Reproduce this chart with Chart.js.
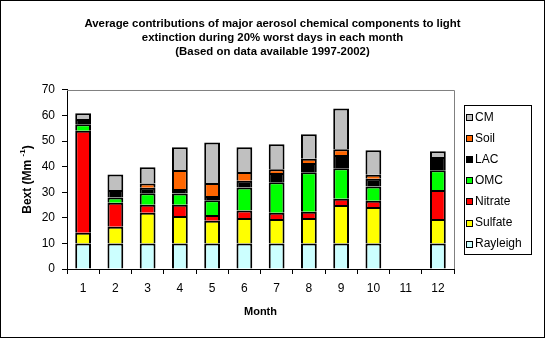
<!DOCTYPE html>
<html>
<head>
<meta charset="utf-8">
<script src="https://cdn.jsdelivr.net/npm/chart.js@4/dist/chart.umd.min.js"></script>
<style>
  html, body { margin: 0; padding: 0; background: #fff; }
  #wrap { width: 545px; height: 338px; }
</style>
</head>
<body>
<div id="wrap"><canvas id="c" width="545" height="338"></canvas></div>
<script>
// --- DATA ---
const months = ['1', '2', '3', '4', '5', '6', '7', '8', '9', '10', '11', '12'];
const rayleigh = [10, 10, 10, 10, 10, 10, 10, 10, 10, 10, null, 10];
const sulfate  = [4.2, 6.5, 12.0, 10.7, 8.9, 9.9, 9.6, 9.9, 15.0, 14.2, null, 9.6];
const nitrate  = [39.9, 9.4, 3.1, 4.4, 2.2, 3.0, 2.4, 2.5, 2.5, 2.5, null, 11.3];
const omc      = [2.5, 2.1, 4.5, 4.4, 5.8, 9.0, 11.9, 15.4, 11.9, 5.6, null, 7.7];
const lac      = [2.1, 2.9, 2.2, 1.8, 1.6, 2.6, 3.6, 3.7, 5.2, 3.0, null, 5.2];
const soil     = [0, 0, 1.6, 7.4, 5.1, 3.4, 1.5, 1.6, 2.2, 1.6, null, 0];
const cm       = [2.2, 6.1, 6.4, 8.9, 15.9, 9.7, 9.8, 9.6, 16.0, 9.5, null, 2.2];
const yTicks = [0, 10, 20, 30, 40, 50, 60, 70];

const FONT = '"Liberation Sans", Arial, sans-serif';

function series(label, data, color) {
    return {
        label: label,
        data: data,
        backgroundColor: color,
        borderColor: '#000',
        borderWidth: 2,
        borderSkipped: 'start',
        barPercentage: 0.49,
        categoryPercentage: 1.0
    };
}

// --- extra drawing: frame, plot border, y title, legend box ---
const decor = {
    id: 'decor',
    beforeDatasetsDraw(chart) {
        const ctx = chart.ctx, a = chart.chartArea;
        ctx.save();
        ctx.strokeStyle = '#808080';
        ctx.lineWidth = 1;
        ctx.beginPath();
        ctx.moveTo(a.left, a.top + 0.5);
        ctx.lineTo(a.right + 0.5, a.top + 0.5);
        ctx.lineTo(a.right + 0.5, a.bottom);
        ctx.stroke();
        ctx.restore();
    },
    afterDraw(chart) {
        const ctx = chart.ctx, a = chart.chartArea;
        ctx.save();
        // outer frame
        ctx.strokeStyle = '#000';
        ctx.lineWidth = 1;
        ctx.strokeRect(0.5, 0.5, chart.width - 1, chart.height - 1);

        // y axis title with superscript
        ctx.translate(28, (a.top + a.bottom) / 2);
        ctx.rotate(-Math.PI / 2);
        ctx.fillStyle = '#000';
        ctx.textBaseline = 'middle';
        const p1 = 'Bext (Mm ', p2 = '-1', p3 = ')';
        ctx.font = 'bold 12px ' + FONT;
        const w1 = ctx.measureText(p1).width, w3 = ctx.measureText(p3).width;
        ctx.font = 'bold 8px ' + FONT;
        const w2 = ctx.measureText(p2).width;
        let x = -(w1 + w2 + w3) / 2;
        ctx.font = 'bold 12px ' + FONT;
        ctx.fillText(p1, x, 0);
        x += w1;
        ctx.font = 'bold 8px ' + FONT;
        ctx.fillText(p2, x, -5);
        x += w2;
        ctx.font = 'bold 12px ' + FONT;
        ctx.fillText(p3, x, 0);
        ctx.setTransform(1, 0, 0, 1, 0, 0);

        // legend
        const lx = 464, ly = 105, lw = 67, lh = 149;
        ctx.strokeStyle = '#000';
        ctx.strokeRect(lx + 0.5, ly + 0.5, lw, lh);
        const ds = chart.data.datasets.slice().reverse();
        ctx.font = '12px ' + FONT;
        ctx.textBaseline = 'middle';
        ds.forEach((d, i) => {
            const cy = 117 + i * 21.1;
            ctx.fillStyle = d.backgroundColor;
            ctx.fillRect(466, Math.round(cy) - 3, 7, 7);
            ctx.strokeRect(466.5, Math.round(cy) - 2.5, 6, 6);
            ctx.fillStyle = '#000';
            ctx.fillText(d.label, 475, cy + 0.5);
        });
        ctx.restore();
    }
};

new Chart(document.getElementById('c'), {
    type: 'bar',
    data: {
        labels: months,
        datasets: [
            series('Rayleigh', rayleigh, '#CCFFFF'),
            series('Sulfate', sulfate, '#FFFF00'),
            series('Nitrate', nitrate, '#FF0000'),
            series('OMC', omc, '#00FF00'),
            series('LAC', lac, '#000000'),
            series('Soil', soil, '#FF6600'),
            series('CM', cm, '#C0C0C0')
        ]
    },
    options: {
        responsive: false,
        animation: false,
        layout: { padding: 0 },
        plugins: {
            legend: { display: false },
            tooltip: { enabled: false },
            title: {
                display: true,
                text: ['Average contributions of major aerosol chemical components to light',
                       'extinction during 20% worst days in each month',
                       '(Based on data available 1997-2002)'],
                color: '#000',
                font: { family: FONT, size: 11.4, weight: 'bold', lineHeight: 1.228 },
                padding: { top: 17, bottom: 31 }
            }
        },
        scales: {
            x: {
                stacked: true,
                grid: { offset: true, drawOnChartArea: false, color: '#000', tickLength: 5 },
                border: { color: '#000' },
                ticks: { color: '#000', font: { family: FONT, size: 12 }, padding: 7 },
                title: { display: true, text: 'Month', color: '#000',
                         font: { family: FONT, size: 11, weight: 'bold' }, padding: { top: 0, bottom: 19 } },
                afterFit(s) { s.height = 69; }
            },
            y: {
                stacked: true,
                min: 0,
                max: 70,
                afterBuildTicks(s) { s.ticks = yTicks.map(v => ({ value: v })); },
                grid: { drawOnChartArea: false, color: '#000', tickLength: 5 },
                border: { color: '#000' },
                ticks: { color: '#000', font: { family: FONT, size: 12 }, padding: 7 },
                afterFit(s) { s.width = 67; }
            },
            // empty right-hand box that reserves room for the legend
            side: {
                type: 'linear',
                position: 'right',
                grid: { display: false },
                border: { display: false },
                ticks: { display: false },
                afterFit(s) { s.width = 91; }
            }
        }
    },
    plugins: [decor]
});
</script>
</body>
</html>
